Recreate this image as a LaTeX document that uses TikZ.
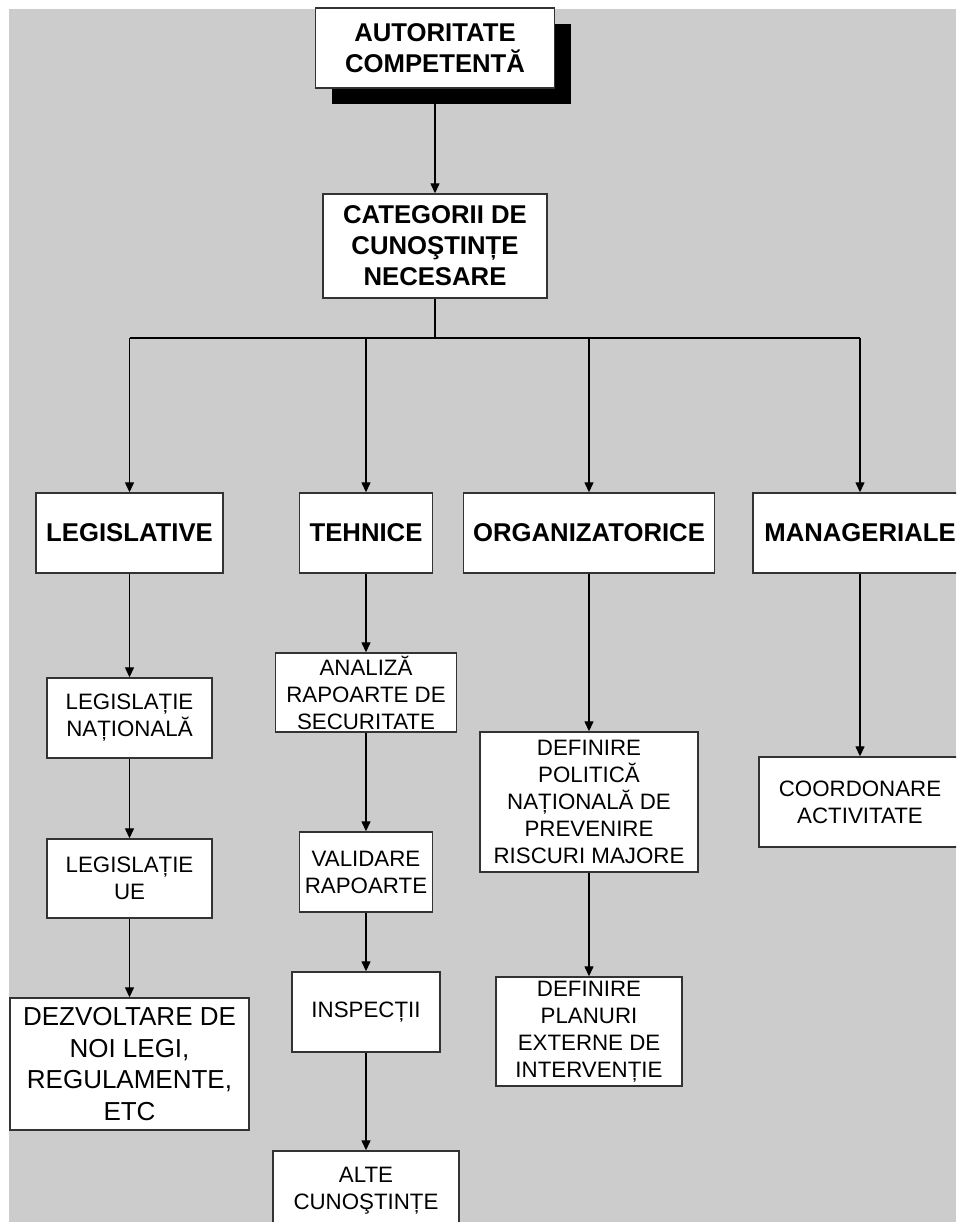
\documentclass[tikz,border=0pt]{standalone}
\usepackage{fontspec}
\setmainfont{Liberation Sans}
\usetikzlibrary{arrows.meta}
\definecolor{panel}{HTML}{CCCCCC}
\definecolor{frame}{HTML}{333333}
\begin{document}
\begin{tikzpicture}[x=1pt,y=-1pt,
  box/.style={draw=frame, line width=1.4pt, fill=white, inner sep=0pt,
              align=center, font=\fontsize{22.3}{27}\selectfont},
  head/.style={box, font=\bfseries\fontsize{25.7}{31}\selectfont},
  link/.style={line width=1.3pt, -{Triangle[length=10pt,width=9pt]}},
  wire/.style={line width=1.3pt},
]
\useasboundingbox (0,0) rectangle (956,1222);
\clip (0,0) rectangle (956,1222);
\fill[white] (0,0) rectangle (956,1222);
\fill[panel] (9,9) rectangle (956,1222);

% top authority box with its drop shadow
\node[fill=black, inner sep=0pt, minimum width=239pt, minimum height=80pt] (autsh) at (451,64) {};
\node[head, minimum width=239pt, minimum height=80pt] (aut) at (435,48) {AUTORITATE\\COMPETENTĂ};

\node[head, minimum width=224pt, minimum height=104pt] (cat) at (435,246) {CATEGORII DE\\CUNOŞTINȚE\\NECESARE};

% knowledge categories
\node[head, minimum width=187pt, minimum height=80pt] (leg) at (129.5,533) {LEGISLATIVE};
\node[head, minimum width=133pt, minimum height=80pt] (teh) at (366,533) {TEHNICE};
\node[head, minimum width=251pt, minimum height=80pt] (org) at (589,533) {ORGANIZATORICE};
\node[head, minimum width=214pt, minimum height=80pt] (man) at (860,533) {MANAGERIALE};

% legislative branch
\node[box, minimum width=165pt, minimum height=80pt] (legnat) at (129.5,718) {LEGISLAȚIE\\NAȚIONALĂ};
\node[box, minimum width=165pt, minimum height=79pt] (legue) at (129.5,878.5) {LEGISLAȚIE\\UE};
\node[box, minimum width=239pt, minimum height=132pt, font=\fontsize{26}{31.5}\selectfont] (dezv) at (129.5,1064) {DEZVOLTARE DE\\NOI LEGI,\\REGULAMENTE,\\ETC};

% technical branch
\node[box, minimum width=181pt, minimum height=79pt] (anal) at (366,692.5) {ANALIZĂ\\RAPOARTE DE\\SECURITATE};
\node[box, minimum width=133pt, minimum height=80pt] (valid) at (366,872) {VALIDARE\\RAPOARTE};
\node[box, minimum width=148pt, minimum height=80pt] (insp) at (366,1012) {INSPECȚII};
\node[box, minimum width=186pt, minimum height=80pt] (alte) at (366,1191) {ALTE\\CUNOŞTINȚE};

% organisational branch
\node[box, minimum width=218pt, minimum height=140pt] (pol) at (589,802) {DEFINIRE\\POLITICĂ\\NAȚIONALĂ DE\\PREVENIRE\\RISCURI MAJORE};
\node[box, minimum width=186pt, minimum height=109pt] (plan) at (589,1031.5) {DEFINIRE\\PLANURI\\EXTERNE DE\\INTERVENȚIE};

% managerial branch
\node[box, minimum width=202pt, minimum height=90pt] (coord) at (860,802) {COORDONARE\\ACTIVITATE};

% connectors
\draw[link] (aut.south |- autsh.south) -- (cat.north);
\coordinate (bus) at (435,338);
\draw[wire] (cat.south) -- (bus);
\draw[wire] (leg.north |- bus) -- (man.north |- bus);
\foreach \n in {leg,teh,org,man}
  \draw[link] (\n.north |- bus) -- (\n.north);

\draw[link] (leg) -- (legnat);
\draw[link] (legnat) -- (legue);
\draw[link] (legue) -- (dezv);

\draw[link] (teh) -- (anal);
\draw[link] (anal) -- (valid);
\draw[link] (valid) -- (insp);
\draw[link] (insp) -- (alte);

\draw[link] (org) -- (pol);
\draw[link] (pol) -- (plan);

\draw[link] (man) -- (coord);
\end{tikzpicture}
\end{document}
